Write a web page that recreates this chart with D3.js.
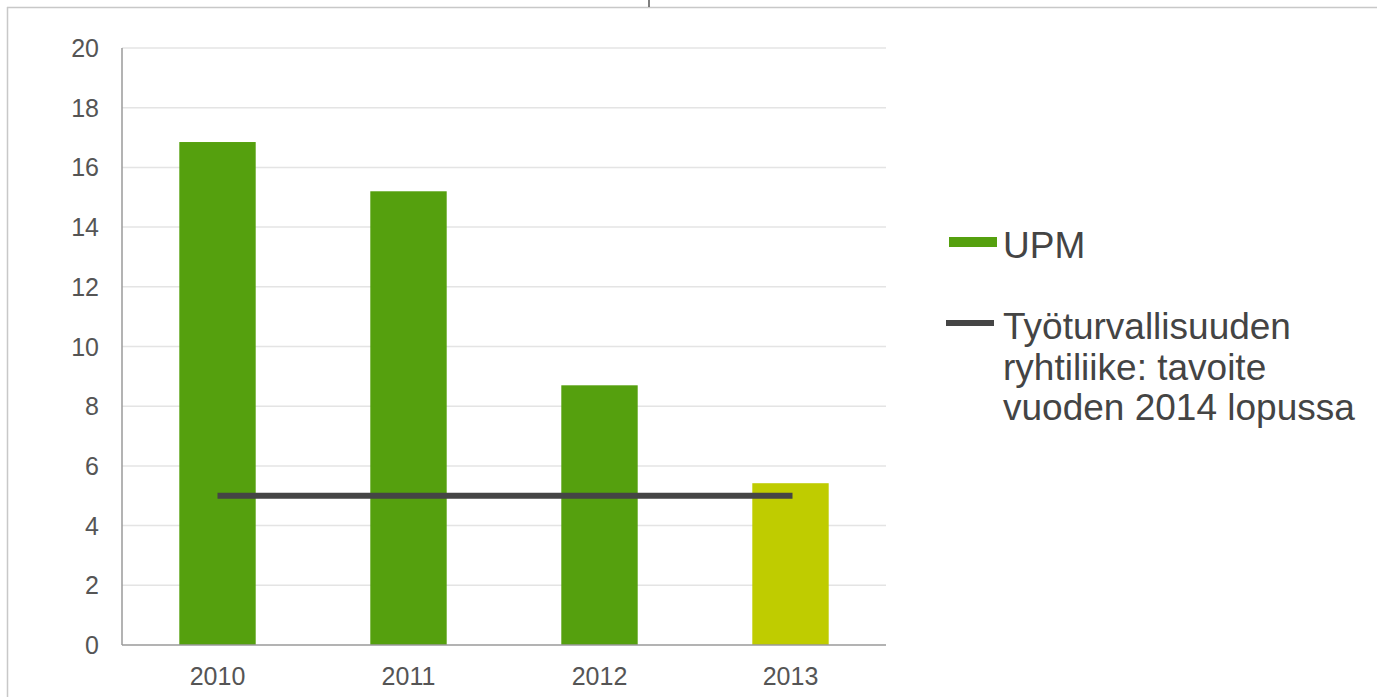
<!DOCTYPE html>
<html>
<head>
<meta charset="utf-8">
<script src="https://cdn.jsdelivr.net/npm/d3@7"></script>
<style>
  body { margin: 0; background: #fff; }
  svg { display: block; font-family: "Liberation Sans", Arial, sans-serif; }
</style>
</head>
<body>
<svg id="chart"></svg>
<script>
const years = ['2010', '2011', '2012', '2013'];
const upmValues = [16.85, 15.2, 8.7, 5.42];
const barColors = ['#55a00e', '#55a00e', '#55a00e', '#bfcc00'];
const targetValue = 5;
const yTicks = [0, 2, 4, 6, 8, 10, 12, 14, 16, 18, 20];
const legendLabels = ['UPM', ['Työturvallisuuden', 'ryhtiliike: tavoite', 'vuoden 2014 lopussa']];

const width = 1377;
const height = 697;
const plot = { left: 122, right: 886, top: 48, bottom: 645 };

const svg = d3.select('#chart')
    .attr('width', width)
    .attr('height', height);

// frame lines of the page
svg.append('line')
    .attr('x1', 7).attr('x2', width).attr('y1', 7.5).attr('y2', 7.5)
    .attr('stroke', '#c8c8c8').attr('stroke-width', 1.5);
svg.append('line')
    .attr('x1', 7.5).attr('x2', 7.5).attr('y1', 7).attr('y2', height)
    .attr('stroke', '#c8c8c8').attr('stroke-width', 1.5);
svg.append('line')
    .attr('x1', 649).attr('x2', 649).attr('y1', 0).attr('y2', 7)
    .attr('stroke', '#555').attr('stroke-width', 1.5);

const x = d3.scaleBand()
    .domain(years)
    .range([plot.left, plot.right])
    .paddingInner(0.6)
    .paddingOuter(0.3);

const y = d3.scaleLinear()
    .domain([0, 20])
    .range([plot.bottom, plot.top]);

// gridlines
svg.append('g')
    .selectAll('line')
    .data(yTicks.filter(d => d > 0))
    .join('line')
    .attr('x1', plot.left)
    .attr('x2', plot.right)
    .attr('y1', d => y(d))
    .attr('y2', d => y(d))
    .attr('stroke', '#e4e4e4')
    .attr('stroke-width', 1.5);

// y tick labels
svg.append('g')
    .selectAll('text')
    .data(yTicks)
    .join('text')
    .attr('x', 99)
    .attr('y', d => y(d))
    .attr('dy', '0.36em')
    .attr('text-anchor', 'end')
    .attr('font-size', 25)
    .attr('fill', '#555')
    .text(d => d);

// bars
svg.append('g')
    .selectAll('rect')
    .data(upmValues)
    .join('rect')
    .attr('x', (d, i) => x(years[i]))
    .attr('width', x.bandwidth())
    .attr('y', d => y(d))
    .attr('height', d => y(0) - y(d))
    .attr('fill', (d, i) => barColors[i]);

// axes lines
svg.append('line')
    .attr('x1', plot.left).attr('x2', plot.left)
    .attr('y1', plot.top).attr('y2', plot.bottom)
    .attr('stroke', '#9a9a9a').attr('stroke-width', 1.5);
svg.append('line')
    .attr('x1', plot.left).attr('x2', plot.right)
    .attr('y1', plot.bottom).attr('y2', plot.bottom)
    .attr('stroke', '#9a9a9a').attr('stroke-width', 1.5);

// x labels
svg.append('g')
    .selectAll('text')
    .data(years)
    .join('text')
    .attr('x', d => x(d) + x.bandwidth() / 2)
    .attr('y', 676)
    .attr('dy', '0.36em')
    .attr('text-anchor', 'middle')
    .attr('font-size', 25)
    .attr('fill', '#555')
    .text(d => d);

// target line
const mid = d => x(d) + x.bandwidth() / 2;
svg.append('line')
    .attr('x1', mid(years[0]))
    .attr('x2', mid(years[years.length - 1]) + 2)
    .attr('y1', y(targetValue))
    .attr('y2', y(targetValue))
    .attr('stroke', '#454545')
    .attr('stroke-width', 6);

// legend
const legend = svg.append('g');
legend.append('rect')
    .attr('x', 949).attr('y', 237).attr('width', 48).attr('height', 10)
    .attr('fill', '#55a00e');
legend.append('text')
    .attr('x', 1003).attr('y', 258)
    .attr('font-size', 37).attr('fill', '#444')
    .text(legendLabels[0]);

legend.append('rect')
    .attr('x', 946).attr('y', 320).attr('width', 48).attr('height', 6)
    .attr('fill', '#454545');
legend.append('text')
    .attr('x', 1003).attr('y', 339)
    .attr('font-size', 37).attr('fill', '#444')
    .selectAll('tspan')
    .data(legendLabels[1])
    .join('tspan')
    .attr('x', 1003)
    .attr('dy', (d, i) => i === 0 ? 0 : 40.5)
    .text(d => d);
</script>
</body>
</html>
